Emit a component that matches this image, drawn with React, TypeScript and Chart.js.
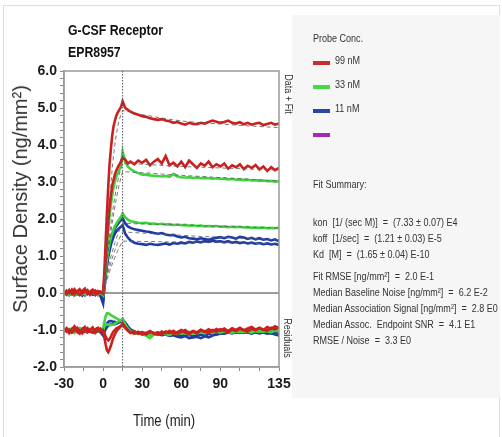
import React, { useEffect, useRef } from 'react';
import { Chart, registerables } from 'chart.js';

Chart.register(...registerables);

// ---------- data ----------
const times = [
  -30, -28, -26, -24, -22, -20, -18, -16, -14, -12, -10, -8, -6, -4, -2, 0,
  1, 2, 3, 4, 5, 6, 7, 8, 9, 10, 11, 12, 13, 14, 15,
  17, 19, 21, 24, 27, 30, 33, 36, 39, 42, 45, 48, 51, 54, 57, 60, 63, 66, 69, 72,
  75, 78, 81, 84, 87, 90, 93, 96, 99, 102, 105, 108, 111, 114, 117, 120, 123, 126, 129, 132, 135,
];

const redA = [
  0.05, -0.03, 0.08, -0.02, 0.1, 0.02, -0.05, 0.06, 0.12, -0.02, 0.04, 0.09, -0.04, 0.05, 0.02, -0.02,
  0.6, 1.4, 2.2, 2.9, 3.5, 3.9, 4.25, 4.5, 4.65, 4.78, 4.86, 4.92, 4.98, 5.05, 5.18,
  5.0, 4.95, 4.9, 4.85, 4.82, 4.78, 4.76, 4.72, 4.7, 4.68, 4.7, 4.66, 4.64, 4.6, 4.62, 4.58, 4.55, 4.6, 4.57, 4.56,
  4.6, 4.58, 4.62, 4.66, 4.63, 4.6, 4.62, 4.66, 4.6, 4.58, 4.62, 4.56, 4.6, 4.55, 4.58, 4.6, 4.54, 4.57, 4.6, 4.55, 4.58,
];
const redB = [
  -0.04, 0.06, 0.0, 0.09, -0.03, 0.04, 0.1, -0.01, 0.03, 0.08, -0.05, 0.02, 0.07, -0.02, 0.04, 0.0,
  0.35, 0.9, 1.45, 1.95, 2.35, 2.65, 2.9, 3.05, 3.2, 3.3, 3.38, 3.45, 3.5, 3.58, 3.65,
  3.6, 3.5, 3.55, 3.48, 3.58, 3.52, 3.6, 3.45, 3.55, 3.62, 3.5, 3.7, 3.45, 3.52, 3.42, 3.55, 3.4, 3.58, 3.48, 3.38,
  3.5, 3.44, 3.55, 3.4, 3.48, 3.42, 3.5, 3.36, 3.45, 3.4, 3.48, 3.35, 3.44, 3.38, 3.46, 3.34, 3.42, 3.3, 3.4, 3.32, 3.38,
];
const greenA = [
  0.02, -0.04, 0.03, 0.0, -0.06, 0.01, 0.04, -0.03, 0.0, 0.05, -0.02, 0.01, -0.04, 0.02, -0.01, -0.05,
  0.3, 0.8, 1.3, 1.75, 2.1, 2.4, 2.65, 2.85, 3.0, 3.12, 3.22, 3.3, 3.38, 3.5, 3.82,
  3.55, 3.42, 3.35, 3.28, 3.24, 3.2, 3.2, 3.18, 3.17, 3.16, 3.15, 3.16, 3.14, 3.22, 3.15, 3.13, 3.12, 3.13, 3.11, 3.12,
  3.1, 3.11, 3.1, 3.09, 3.1, 3.08, 3.09, 3.07, 3.08, 3.06, 3.07, 3.05, 3.06, 3.04, 3.05, 3.03, 3.04, 3.02, 3.03, 3.01, 3.02,
];
const greenB = [
  -0.02, 0.03, -0.05, 0.01, 0.04, -0.03, 0.0, 0.05, -0.04, 0.02, -0.01, 0.03, 0.0, -0.05, 0.02, -0.06,
  0.25, 0.6, 0.9, 1.15, 1.35, 1.5, 1.62, 1.72, 1.8, 1.86, 1.92, 1.97, 2.02, 2.08, 2.15,
  2.05, 1.98, 1.94, 1.92, 1.9, 1.89, 1.9, 1.87, 1.88, 1.86, 1.87, 1.85, 1.86, 1.84, 1.85, 1.83, 1.84, 1.82, 1.83, 1.81,
  1.82, 1.8, 1.81, 1.8, 1.81, 1.79, 1.8, 1.78, 1.79, 1.78, 1.79, 1.77, 1.78, 1.76, 1.77, 1.76, 1.77, 1.75, 1.76, 1.75, 1.76,
];
const blueA = [
  0.0, -0.05, 0.03, -0.02, -0.07, 0.02, -0.04, 0.01, -0.06, 0.03, -0.03, -0.01, -0.06, 0.0, -0.08, -0.28,
  0.2, 0.55, 0.85, 1.1, 1.3, 1.45, 1.57, 1.66, 1.74, 1.8, 1.85, 1.9, 1.94, 1.98, 2.02,
  1.88, 1.8, 1.76, 1.72, 1.7, 1.68, 1.66, 1.65, 1.62, 1.6, 1.62, 1.58, 1.56, 1.57, 1.53, 1.5, 1.52, 1.48, 1.47, 1.45,
  1.48, 1.46, 1.44, 1.47, 1.49, 1.51, 1.48, 1.52, 1.5, 1.47, 1.52, 1.5, 1.46, 1.49, 1.45, 1.48, 1.44, 1.46, 1.42, 1.45, 1.4,
];
const blueB = [
  -0.03, 0.02, -0.06, 0.0, 0.03, -0.04, -0.01, -0.07, 0.02, -0.03, 0.01, -0.05, -0.02, -0.06, -0.04, -0.22,
  0.15, 0.45, 0.75, 0.98, 1.15, 1.3, 1.42, 1.52, 1.6, 1.66, 1.7, 1.74, 1.77, 1.8, 1.83,
  1.6, 1.5, 1.42, 1.36, 1.33, 1.32, 1.3, 1.33, 1.31, 1.3, 1.32, 1.34, 1.31, 1.35, 1.33, 1.36, 1.34, 1.38, 1.36, 1.39,
  1.37, 1.4, 1.38, 1.41, 1.39, 1.4, 1.37, 1.4, 1.36, 1.38, 1.35, 1.37, 1.34, 1.36, 1.33, 1.35, 1.32, 1.34, 1.31, 1.33, 1.3,
];

// residuals (plotted with a -1.0 offset)
const resRedA = [
  -1.02, -0.95, -1.08, -0.98, -0.9, -1.05, -1.1, -0.97, -0.92, -1.06, -1.0, -0.93, -1.08, -1.02, -0.96, -1.05,
  -1.2, -1.4, -1.55, -1.6, -1.52, -1.42, -1.3, -1.2, -1.12, -1.05, -1.0, -0.96, -0.93, -0.88, -0.82,
  -0.92, -1.0, -1.06, -1.1, -1.05, -1.12, -1.08, -1.03, -1.1, -1.06, -1.12, -1.04, -1.08, -1.02, -1.1, -1.05, -1.0, -1.08, -1.03, -1.1,
  -1.0, -1.05, -0.98, -1.04, -0.97, -1.02, -0.96, -1.03, -0.95, -1.0, -0.94, -1.01, -0.96, -0.92, -0.99, -0.94, -1.0, -0.92, -0.97, -0.9, -0.95,
];
const resRedB = [
  -0.96, -1.04, -0.99, -1.07, -1.01, -0.94, -1.03, -1.09, -1.0, -0.95, -1.04, -1.07, -0.98, -0.94, -1.03, -1.0,
  -1.08, -1.18, -1.25, -1.28, -1.24, -1.18, -1.1, -1.04, -1.0, -0.96, -0.94, -0.92, -0.9, -0.88, -0.86,
  -0.95, -1.02, -1.08, -1.04, -1.1, -1.06, -1.12, -1.05, -1.08, -1.13, -1.04, -1.09, -1.02, -1.1, -1.06, -1.0, -1.07, -1.11, -1.03, -1.06,
  -0.99, -1.04, -1.08, -1.0, -1.05, -0.98, -1.02, -1.06, -0.99, -1.03, -0.97, -1.0, -1.04, -0.96, -1.01, -0.95, -0.99, -1.02, -0.94, -0.98, -0.93,
];
const resGreenA = [
  -1.0, -1.05, -0.97, -1.02, -1.08, -0.99, -0.95, -1.04, -1.0, -1.06, -0.98, -1.03, -1.0, -0.96, -1.02, -0.98,
  -0.78, -0.62, -0.55, -0.55, -0.57, -0.6, -0.62, -0.64, -0.66, -0.68, -0.7, -0.72, -0.74, -0.75, -0.72,
  -0.88, -0.98, -1.05, -1.1, -1.08, -1.12, -1.15, -1.22, -1.12, -1.1, -1.08, -1.12, -1.07, -1.1, -1.06, -1.1, -1.08, -1.05, -1.1, -1.07,
  -1.04, -1.08, -1.05, -1.02, -1.06, -1.03, -1.05, -1.01, -1.04, -1.0, -1.03, -1.05, -1.01, -1.04, -1.0, -1.02, -1.05, -1.01, -1.03, -1.0, -1.02,
];
const resGreenB = [
  -1.03, -0.98, -1.01, -0.96, -1.04, -1.0, -1.06, -0.99, -0.95, -1.02, -1.05, -0.97, -1.01, -1.04, -0.99, -1.02,
  -0.9, -0.86, -0.85, -0.86, -0.87, -0.87, -0.86, -0.85, -0.83, -0.81, -0.79, -0.77, -0.75, -0.73, -0.7,
  -0.85, -0.96, -1.03, -1.07, -1.1, -1.06, -1.09, -1.13, -1.08, -1.11, -1.07, -1.1, -1.14, -1.08, -1.11, -1.06, -1.09, -1.12, -1.07, -1.1,
  -1.06, -1.09, -1.05, -1.08, -1.04, -1.07, -1.03, -1.06, -1.08, -1.04, -1.06, -1.02, -1.05, -1.07, -1.03, -1.05, -1.01, -1.04, -1.06, -1.02, -1.04,
];
const resBlueA = [
  -1.04, -0.97, -1.02, -1.06, -0.99, -1.03, -0.96, -1.01, -1.05, -0.98, -1.02, -1.07, -0.99, -1.03, -1.06, -1.15,
  -1.0, -0.9, -0.82, -0.78, -0.76, -0.76, -0.77, -0.78, -0.78, -0.79, -0.8, -0.78, -0.76, -0.74, -0.72,
  -0.8, -0.9, -0.98, -1.04, -1.08, -1.06, -1.1, -1.08, -1.12, -1.1, -1.14, -1.12, -1.16, -1.14, -1.18, -1.2, -1.16, -1.22, -1.2, -1.18,
  -1.22, -1.17, -1.2, -1.15, -1.12, -1.1, -1.08, -1.05, -1.08, -1.06, -1.04, -1.07, -1.05, -1.08, -1.06, -1.09, -1.07, -1.1, -1.08, -1.12, -1.15,
];
const resBlueB = [
  -0.98, -1.03, -1.07, -1.0, -0.96, -1.04, -1.01, -0.97, -1.03, -1.06, -1.0, -0.96, -1.04, -1.0, -1.02, -1.12,
  -1.05, -0.98, -0.92, -0.88, -0.86, -0.85, -0.85, -0.84, -0.84, -0.83, -0.82, -0.8, -0.79, -0.77, -0.76,
  -0.86, -0.95, -1.02, -1.06, -1.1, -1.07, -1.11, -1.08, -1.12, -1.09, -1.13, -1.1, -1.14, -1.11, -1.15, -1.12, -1.16, -1.13, -1.17, -1.14,
  -1.12, -1.15, -1.11, -1.09, -1.12, -1.08, -1.1, -1.07, -1.09, -1.06, -1.08, -1.05, -1.07, -1.1, -1.06, -1.08, -1.05, -1.07, -1.09, -1.06, -1.08,
];

// model fits
const fitTimes = [0, 1, 2, 3, 4, 5, 6, 7, 8, 9, 10, 11, 12, 13, 14, 15, 20, 25, 30, 40, 50, 60, 75, 90, 105, 120, 135];
const fitRedA = [0, 0.45, 0.95, 1.5, 2.0, 2.5, 2.95, 3.35, 3.7, 4.0, 4.25, 4.45, 4.62, 4.75, 4.85, 4.93, 4.9, 4.86, 4.82, 4.76, 4.7, 4.65, 4.6, 4.57, 4.53, 4.5, 4.47];
const fitRedB = [0, 0.3, 0.62, 0.95, 1.27, 1.58, 1.87, 2.13, 2.38, 2.6, 2.8, 2.98, 3.14, 3.28, 3.4, 3.5, 3.5, 3.49, 3.48, 3.46, 3.44, 3.42, 3.4, 3.38, 3.36, 3.34, 3.32];
const fitGreenA = [0, 0.28, 0.56, 0.85, 1.13, 1.4, 1.65, 1.89, 2.11, 2.32, 2.52, 2.7, 2.87, 3.02, 3.16, 3.28, 3.27, 3.26, 3.25, 3.23, 3.2, 3.18, 3.15, 3.12, 3.09, 3.06, 3.03];
const fitGreenB = [0, 0.18, 0.36, 0.53, 0.69, 0.84, 0.98, 1.11, 1.23, 1.35, 1.46, 1.56, 1.65, 1.74, 1.82, 1.89, 1.88, 1.87, 1.87, 1.86, 1.85, 1.84, 1.82, 1.8, 1.79, 1.77, 1.76];
const fitBlueA = [0, 0.15, 0.3, 0.44, 0.57, 0.7, 0.82, 0.94, 1.05, 1.15, 1.25, 1.34, 1.43, 1.51, 1.58, 1.65, 1.64, 1.63, 1.62, 1.6, 1.58, 1.56, 1.53, 1.51, 1.48, 1.46, 1.44];
const fitBlueB = [0, 0.12, 0.24, 0.36, 0.47, 0.58, 0.68, 0.78, 0.87, 0.96, 1.04, 1.12, 1.2, 1.27, 1.34, 1.4, 1.4, 1.4, 1.39, 1.39, 1.38, 1.38, 1.37, 1.36, 1.35, 1.34, 1.33];

const dissociationStart = 15;
const xTickLabels = [-30, 0, 30, 60, 90, 135];
const yTickLabels = [-2, -1, 0, 1, 2, 3, 4, 5, 6];

const legendTitle = 'Probe Conc.';
const legendLabels = ['99 nM', '33 nM', '11 nM', ''];
const legendColors = ['#c4302c', '#46d846', '#2846a8', '#a628b6'];
const lineColors = { red: '#cc1f1f', green: '#3fd43f', blue: '#1f3ba6' };

const titleLines = ['G-CSF Receptor', 'EPR8957'];
const yAxisTitle = 'Surface Density (ng/mm\u00b2)';
const xAxisTitle = 'Time (min)';
const panelLabels = ['Data + Fit', 'Residuals'];
const summaryTitle = 'Fit Summary:';
const kineticLines = [
  'kon  [1/ (sec M)]  =  (7.33 \u00b1 0.07) E4',
  'koff  [1/sec]  =  (1.21 \u00b1 0.03) E-5',
  'Kd  [M]  =  (1.65 \u00b1 0.04) E-10',
];
const qualityLines = [
  'Fit RMSE [ng/mm\u00b2]  =  2.0 E-1',
  'Median Baseline Noise [ng/mm\u00b2]  =  6.2 E-2',
  'Median Association Signal [ng/mm\u00b2]  =  2.8 E0',
  'Median Assoc.  Endpoint SNR  =  4.1 E1',
  'RMSE / Noise  =  3.3 E0',
];

// ---------- helpers ----------
const NARROW = "'Liberation Sans Narrow'";
function hasNarrow(): boolean {
  try {
    const ctx = document.createElement('canvas').getContext('2d');
    if (!ctx) return false;
    ctx.font = '20px monospace';
    const a = ctx.measureText('abcdefghijkl MWx').width;
    ctx.font = `20px ${NARROW}, monospace`;
    const b = ctx.measureText('abcdefghijkl MWx').width;
    return Math.abs(a - b) > 0.5;
  } catch (e) {
    return false;
  }
}
const narrowOK = hasNarrow();
const FAMILY = narrowOK ? `${NARROW}, 'Liberation Sans', Arial, sans-serif` : `'Liberation Sans', Arial, sans-serif`;
const SQUEEZE = narrowOK ? 1 : 0.82;
const REGULAR = `'Liberation Sans', Arial, sans-serif`;

function pts(ys: number[], xs: number[] = times) {
  return xs.map((x, i) => ({ x, y: ys[i] }));
}

type TxtProps = { x: number; cy: number; size: number; bold?: boolean; color?: string; children: React.ReactNode };
function Txt({ x, cy, size, bold, color, children }: TxtProps) {
  return (
    <div
      style={{
        position: 'absolute',
        left: x,
        top: cy,
        fontFamily: FAMILY,
        fontSize: size,
        fontWeight: bold ? 700 : 400,
        lineHeight: 1,
        color: color || '#333',
        whiteSpace: 'pre',
        transform: `translateY(-50%) scaleX(${SQUEEZE})`,
        transformOrigin: 'left center',
      }}
    >
      {children}
    </div>
  );
}

function RotTxt({ cx, cy, size, angle, children, color, family, squeeze }: { cx: number; cy: number; size: number; angle: number; children: React.ReactNode; color?: string; family?: string; squeeze?: number }) {
  return (
    <div
      style={{
        position: 'absolute',
        left: cx,
        top: cy,
        fontFamily: family || FAMILY,
        fontSize: size,
        lineHeight: 1,
        color: color || '#333',
        whiteSpace: 'pre',
        transform: `translate(-50%, -50%) rotate(${angle}deg) scaleX(${squeeze ?? SQUEEZE})`,
      }}
    >
      {children}
    </div>
  );
}

const framePlugin = {
  id: 'framePlugin',
  beforeDatasetsDraw(chart: any) {
    const { ctx, chartArea, scales } = chart;
    const y0 = scales.y.getPixelForValue(0);
    ctx.save();
    ctx.strokeStyle = '#9c9c9c';
    ctx.lineWidth = 2;
    ctx.beginPath();
    ctx.moveTo(chartArea.left, y0);
    ctx.lineTo(chartArea.right, y0);
    ctx.stroke();
    ctx.restore();
  },
  afterDatasetsDraw(chart: any) {
    const { ctx, chartArea, scales } = chart;
    ctx.save();
    ctx.strokeStyle = '#9a9a9a';
    ctx.lineWidth = 1.5;
    ctx.strokeRect(chartArea.left, chartArea.top, chartArea.right - chartArea.left, chartArea.bottom - chartArea.top);
    const xd = scales.x.getPixelForValue(dissociationStart);
    ctx.strokeStyle = '#555';
    ctx.lineWidth = 1;
    ctx.setLineDash([1.5, 1.5]);
    ctx.beginPath();
    ctx.moveTo(xd, chartArea.top);
    ctx.lineTo(xd, chartArea.bottom);
    ctx.stroke();
    ctx.restore();
  },
};

export default function App() {
  const ref = useRef<HTMLCanvasElement>(null);

  useEffect(() => {
    if (!ref.current) return;
    const dataLine = (label: string, ys: number[], color: string) => ({
      label,
      data: pts(ys),
      borderColor: color,
      borderWidth: 2.6,
      pointRadius: 0,
      tension: 0,
      fill: false,
    });
    const fitLine = (label: string, ys: number[]) => ({
      label,
      data: pts(ys, fitTimes),
      borderColor: 'rgba(95,95,95,0.85)',
      borderWidth: 1,
      borderDash: [4, 3],
      pointRadius: 0,
      tension: 0,
      fill: false,
    });
    const chart = new Chart(ref.current, {
      type: 'line',
      data: {
        datasets: [
          fitLine('fit 99 nM a', fitRedA),
          fitLine('fit 99 nM b', fitRedB),
          fitLine('fit 33 nM a', fitGreenA),
          fitLine('fit 33 nM b', fitGreenB),
          fitLine('fit 11 nM a', fitBlueA),
          fitLine('fit 11 nM b', fitBlueB),
          dataLine('99 nM a', redA, lineColors.red),
          dataLine('99 nM b', redB, lineColors.red),
          dataLine('res 99 nM a', resRedA, lineColors.red),
          dataLine('res 99 nM b', resRedB, lineColors.red),
          dataLine('33 nM a', greenA, lineColors.green),
          dataLine('33 nM b', greenB, lineColors.green),
          dataLine('res 33 nM a', resGreenA, lineColors.green),
          dataLine('res 33 nM b', resGreenB, lineColors.green),
          dataLine('11 nM a', blueA, lineColors.blue),
          dataLine('11 nM b', blueB, lineColors.blue),
          dataLine('res 11 nM a', resBlueA, lineColors.blue),
          dataLine('res 11 nM b', resBlueB, lineColors.blue),
        ] as any,
      },
      options: {
        animation: false,
        responsive: false,
        devicePixelRatio: 1,
        layout: { padding: { left: 0, right: 223, top: 71, bottom: 0 } },
        plugins: { legend: { display: false }, tooltip: { enabled: false } },
        scales: {
          x: {
            type: 'linear',
            min: -30,
            max: 135,
            afterFit: (s: any) => {
              s.height = 70;
            },
            ticks: {
              stepSize: 15,
              autoSkip: false,
              maxRotation: 0,
              padding: 5,
              color: '#1a1a1a',
              font: { family: FAMILY, size: 14, weight: 'bold' },
              callback: (v: any) => (xTickLabels.includes(Number(v)) ? String(v) : ''),
            },
            grid: { drawOnChartArea: false, tickLength: 4, color: '#8a8a8a' },
            border: { color: '#9a9a9a', width: 1.5 },
          },
          y: {
            type: 'linear',
            min: -2,
            max: 6,
            afterFit: (s: any) => {
              s.width = 64;
            },
            ticks: {
              stepSize: 0.2,
              autoSkip: false,
              padding: 3,
              color: '#1a1a1a',
              font: { family: FAMILY, size: 14, weight: 'bold' },
              callback: (v: any) => {
                const n = Number(v);
                const r = Math.round(n);
                return Math.abs(n - r) < 1e-6 && yTickLabels.includes(r) ? r.toFixed(1) : '';
              },
            },
            grid: { drawOnChartArea: false, tickLength: 4, color: '#8a8a8a' },
            border: { color: '#9a9a9a', width: 1.5 },
          },
        },
      } as any,
      plugins: [framePlugin],
    });
    return () => chart.destroy();
  }, []);

  const summaryY = [222, 238, 254];
  const qualityY = [276, 292, 308, 324, 340];
  const legendTextY = [60, 84, 108, 132];
  const legendSwatchY = [63, 87, 111, 135];

  return (
    <div style={{ position: 'absolute', left: 0, top: 0, width: 502, height: 437, background: '#fff', overflow: 'hidden' }}>
      <div style={{ position: 'absolute', left: 3, top: 5, width: 497, height: 450, border: '1.5px solid #dedede', boxSizing: 'border-box' }} />
      <div style={{ position: 'absolute', left: 292, top: 15, width: 208, height: 383, background: '#f6f6f6' }} />
      <canvas ref={ref} width={502} height={437} style={{ position: 'absolute', left: 0, top: 0, width: 502, height: 437 }} />

      <Txt x={68} cy={29} size={15} bold color="#111">{titleLines[0]}</Txt>
      <Txt x={68} cy={51} size={15} bold color="#111">{titleLines[1]}</Txt>

      <RotTxt cx={20} cy={199} size={20} angle={-90} color="#333" family={REGULAR} squeeze={1}>{yAxisTitle}</RotTxt>
      <Txt x={133} cy={421} size={16} color="#222">{xAxisTitle}</Txt>
      <RotTxt cx={288} cy={94} size={11} angle={90}>{panelLabels[0]}</RotTxt>
      <RotTxt cx={287} cy={338} size={11} angle={90}>{panelLabels[1]}</RotTxt>

      <Txt x={313} cy={38} size={11}>{legendTitle}</Txt>
      {legendLabels.map((l, i) => (
        <React.Fragment key={i}>
          <div style={{ position: 'absolute', left: 313, top: legendSwatchY[i] - 2, width: 17, height: 4, background: legendColors[i] }} />
          {l ? <Txt x={335} cy={legendTextY[i]} size={11}>{l}</Txt> : null}
        </React.Fragment>
      ))}

      <Txt x={313} cy={184} size={11}>{summaryTitle}</Txt>
      {kineticLines.map((l, i) => (
        <Txt key={'k' + i} x={313} cy={summaryY[i]} size={11}>{l}</Txt>
      ))}
      {qualityLines.map((l, i) => (
        <Txt key={'q' + i} x={313} cy={qualityY[i]} size={11}>{l}</Txt>
      ))}
    </div>
  );
}
